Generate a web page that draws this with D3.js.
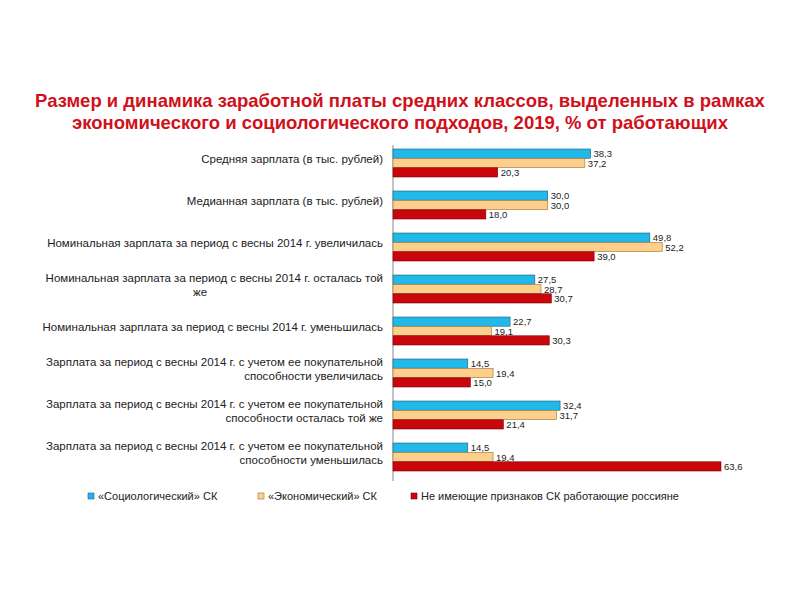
<!DOCTYPE html>
<html><head><meta charset="utf-8">
<script src="https://cdn.jsdelivr.net/npm/d3@7"></script>
<style>body{margin:0;background:#fff}text{font-family:Arial,"Liberation Sans",sans-serif}</style>
</head><body><div id="chart"></div>
<script>
const categories = [
  ["Средняя зарплата (в тыс. рублей)"],
  ["Медианная зарплата (в тыс. рублей)"],
  ["Номинальная зарплата за период с весны 2014 г. увеличилась"],
  ["Номинальная зарплата за период с весны 2014 г. осталась той", "же"],
  ["Номинальная зарплата за период с весны 2014 г. уменьшилась"],
  ["Зарплата за период с весны 2014 г. с учетом ее покупательной", "способности увеличилась"],
  ["Зарплата за период с весны 2014 г. с учетом ее покупательной", "способности осталась той же"],
  ["Зарплата за период с весны 2014 г. с учетом ее покупательной", "способности уменьшилась"]
];
const seriesNames = ["«Социологический» СК", "«Экономический» СК", "Не имеющие признаков СК работающие россияне"];
const socio = [38.3, 30.0, 49.8, 27.5, 22.7, 14.5, 32.4, 14.5];
const econ = [37.2, 30.0, 52.2, 28.7, 19.1, 19.4, 31.7, 19.4];
const nonSK = [20.3, 18.0, 39.0, 30.7, 30.3, 15.0, 21.4, 63.6];
const colors = ["#22b8e8", "#fcd08c", "#c8060c"];
const strokes = ["#1a5f80", "#a07030", "#800000"];

const svg = d3.select("#chart").append("svg").attr("width", 800).attr("height", 600);

svg.append("text").attr("x", 400).attr("y", 107).attr("text-anchor", "middle")
  .attr("font-size", 18.5).attr("font-weight", "bold").attr("fill", "#d0101a")
  .text("Размер и динамика заработной платы средних классов, выделенных в рамках");
svg.append("text").attr("x", 400).attr("y", 129).attr("text-anchor", "middle")
  .attr("font-size", 18.5).attr("font-weight", "bold").attr("fill", "#d0101a")
  .text("экономического и социологического подходов, 2019, % от работающих");

const x = d3.scaleLinear().domain([0, 63.6]).range([393, 721]);
const y = d3.scaleBand().domain(d3.range(categories.length)).range([145, 481]);
const inner = d3.scaleBand().domain([0, 1, 2]).range([4, 32]).paddingInner(0.02);

svg.append("line").attr("x1", 393).attr("x2", 393).attr("y1", 145).attr("y2", 481).attr("stroke", "#888");

const series = [socio, econ, nonSK];
series.forEach((vals, s) => {
  const g = svg.append("g");
  g.selectAll("rect").data(vals).join("rect")
    .attr("x", x(0)).attr("y", (d, i) => y(i) + inner(s))
    .attr("width", d => x(d) - x(0)).attr("height", inner.bandwidth())
    .attr("fill", colors[s]).attr("stroke", strokes[s]).attr("stroke-width", 0.6);
  g.selectAll("text").data(vals).join("text")
    .attr("x", d => x(d) + 3).attr("y", (d, i) => y(i) + inner(s) + inner.bandwidth() / 2 + 3.5)
    .attr("font-size", 9.5).attr("fill", "#222")
    .text(d => d.toFixed(1).replace(".", ","));
});

categories.forEach((lines, i) => {
  const cy = y(i) + 18;
  const t = svg.append("text").attr("text-anchor", "end").attr("font-size", 11.5).attr("fill", "#222");
  if (lines.length === 1) {
    t.append("tspan").attr("x", 383).attr("y", cy).text(lines[0]);
  } else {
    t.append("tspan").attr("x", 383).attr("y", cy - 7).text(lines[0]);
    if (lines[1] === "же") {
      svg.append("text").attr("x", 200).attr("y", cy + 7).attr("text-anchor", "middle")
        .attr("font-size", 11.5).attr("fill", "#222").text(lines[1]);
    } else {
      t.append("tspan").attr("x", 383).attr("y", cy + 7).text(lines[1]);
    }
  }
});

const legendX = [88, 258, 411];
seriesNames.forEach((n, s) => {
  svg.append("rect").attr("x", legendX[s]).attr("y", 493).attr("width", 6).attr("height", 6)
    .attr("fill", colors[s]).attr("stroke", strokes[s]).attr("stroke-width", 0.6);
  svg.append("text").attr("x", legendX[s] + 10).attr("y", 500).attr("font-size", 11).attr("fill", "#222").text(n);
});
</script></body></html>
